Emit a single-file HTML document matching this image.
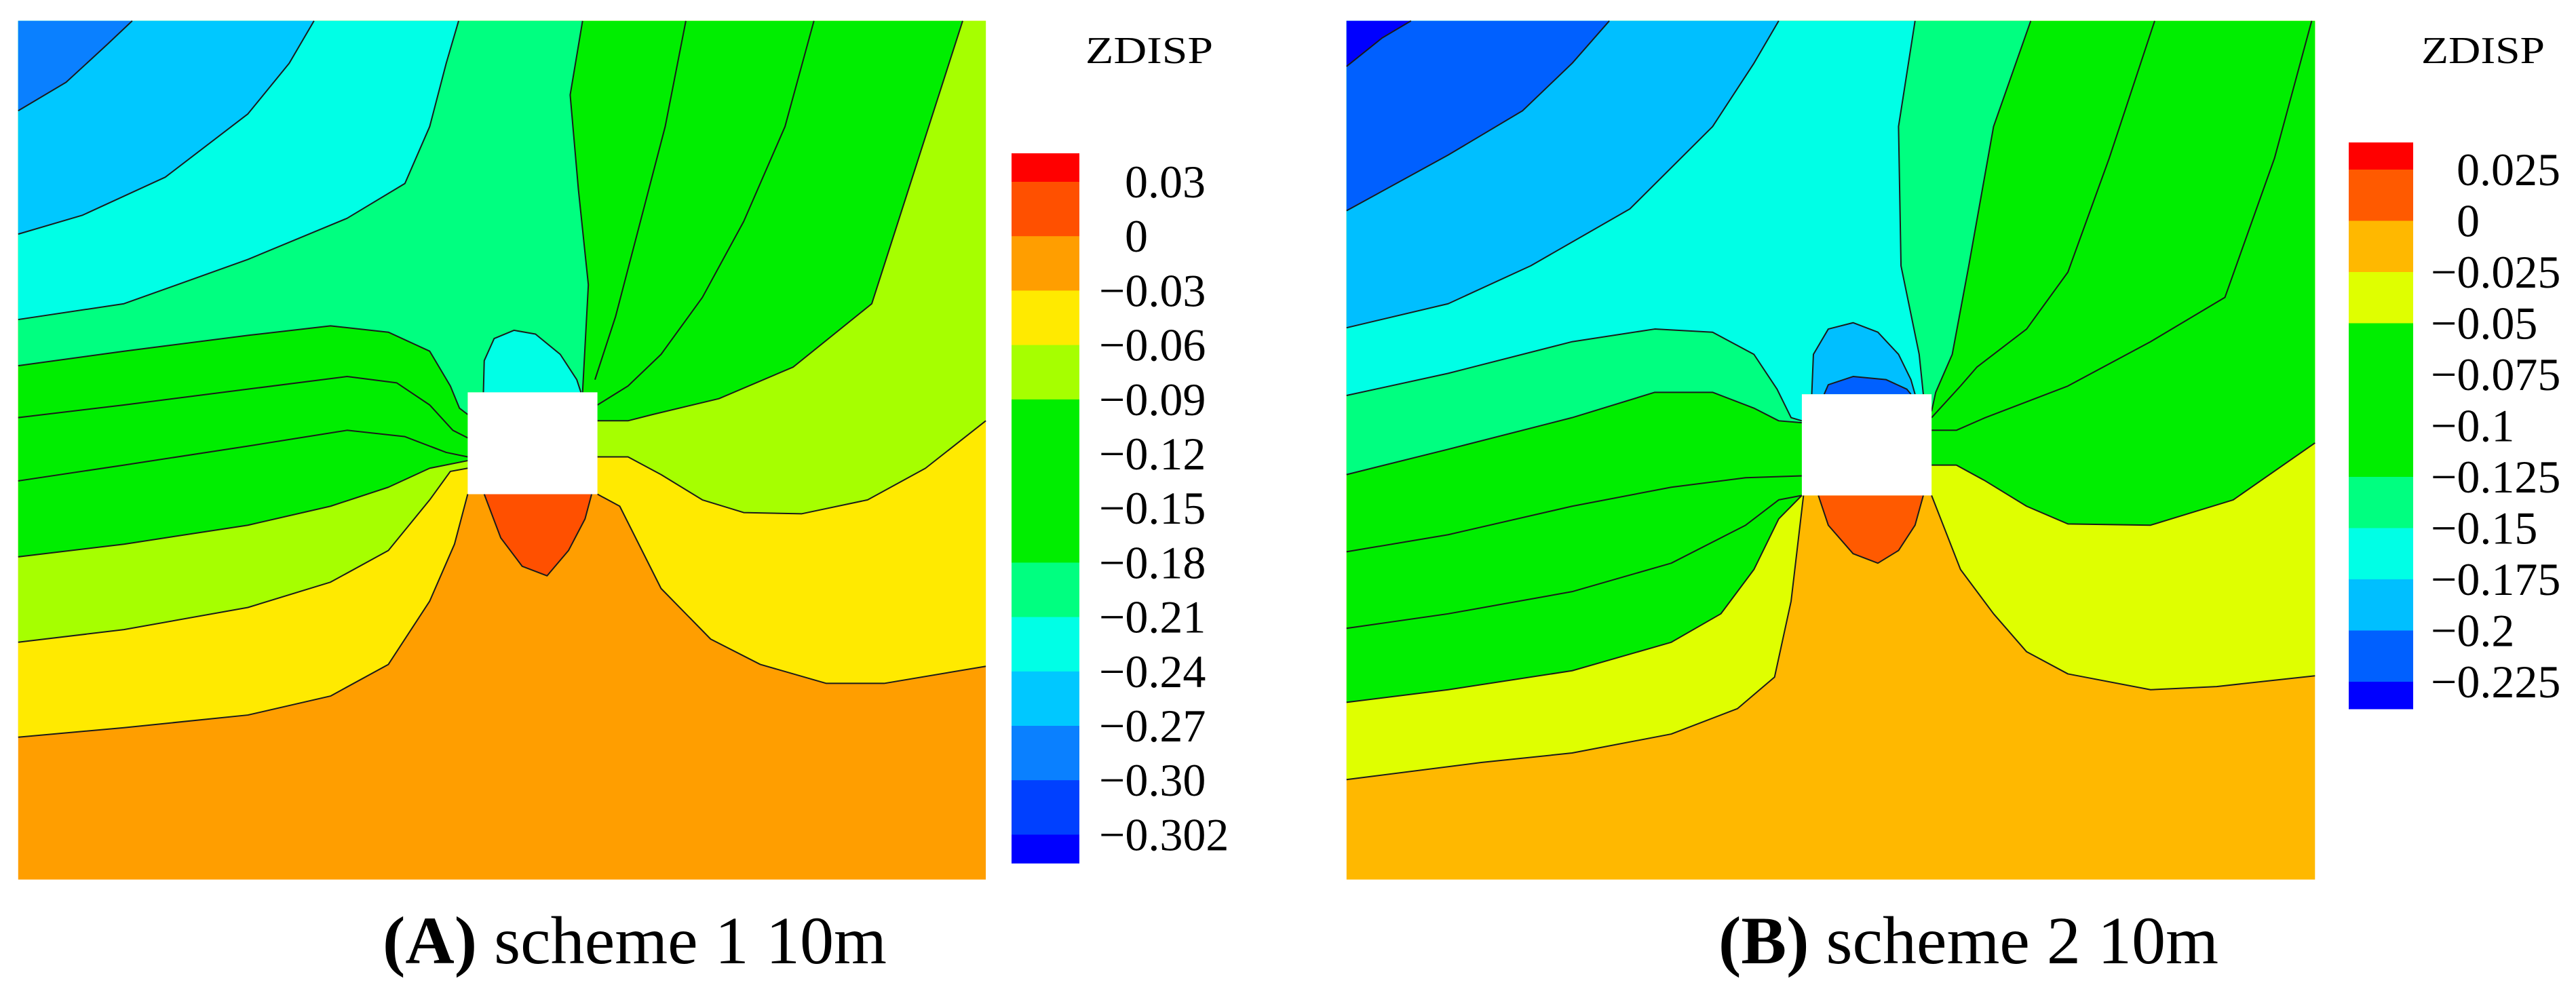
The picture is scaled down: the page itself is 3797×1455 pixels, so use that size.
<!DOCTYPE html>
<html><head><meta charset="utf-8"><style>
html,body{margin:0;padding:0;background:#fff;}
svg{display:block;}
text{font-family:"Liberation Serif",serif;fill:#000;}
</style></head><body>
<svg id="svg" width="3797" height="1455" viewBox="0 0 3797 1455" xmlns="http://www.w3.org/2000/svg">
<g id="pA" transform="scale(1.2180,0.9328)"></g>
<g id="pB" transform="translate(1891,0) scale(1.2180,0.9328)"></g>
<g id="cbA"></g>
<g id="cbB"></g>
<text x="1600" y="93" font-size="56" textLength="188" lengthAdjust="spacingAndGlyphs">ZDISP</text>
<text x="3569" y="93" font-size="56" textLength="182" lengthAdjust="spacingAndGlyphs">ZDISP</text>
<text x="564" y="1420" font-size="100" textLength="743" lengthAdjust="spacingAndGlyphs"><tspan font-weight="bold">(A)</tspan> scheme 1 10m</text>
<text x="2533" y="1420" font-size="100" textLength="737" lengthAdjust="spacingAndGlyphs"><tspan font-weight="bold">(B)</tspan> scheme 2 10m</text>
</svg>
<script>
// Colorbar data
const labelsA = ["0.03","0","\u22120.03","\u22120.06","\u22120.09","\u22120.12","\u22120.15","\u22120.18","\u22120.21","\u22120.24","\u22120.27","\u22120.30","\u22120.302"];
const colorsA = ["#FF0000","#FF5000","#FF9E00","#FFEA00","#A6FF00","#00EE00","#00EE00","#00EE00","#00FF80","#00FFE6","#00C8FF","#0A80FF","#0040FF","#0000FF"];
const labelsB = ["0.025","0","\u22120.025","\u22120.05","\u22120.075","\u22120.1","\u22120.125","\u22120.15","\u22120.175","\u22120.2","\u22120.225"];
const colorsB = ["#FF0000","#FF5A00","#FFB800","#DFFF00","#00EE00","#00EE00","#00EE00","#00FF80","#00FFE6","#00BFFF","#0060FF","#0000FF"];

const NS="http://www.w3.org/2000/svg";
function mk(tag,parent,attrs){const e=document.createElementNS(NS,tag);for(const k in attrs)e.setAttribute(k,attrs[k]);parent.appendChild(e);return e;}

function colorbar(gid,labels,colors,x0,x1,yTop,yFirst,step,labelX){
  const g=document.getElementById(gid);
  const bnd=[yTop];
  for(let i=0;i<labels.length;i++) bnd.push(yFirst+i*step);
  bnd.push(yFirst+(labels.length-1)*step+(yFirst-yTop));
  for(let i=0;i<colors.length;i++){
    const r=mk('rect',g,{x:x0,y:bnd[i],width:x1-x0,height:bnd[i+1]-bnd[i]+0.5,fill:colors[i]});
    
    
  }
  labels.forEach((l,i)=>{
    const neg=l.charAt(0)==='\u2212';
    const t=mk('text',g,{x:neg?labelX:labelX+38,y:bnd[i+1]+23,'font-size':68});
    t.textContent=l;
    
    
  });
}
// A: yTop 226, boundaries every ~80
colorbar('cbA',labelsA,colorsA,1491,1591,226,268,80.2,1620);
colorbar('cbB',labelsB,colorsB,3462,3557,210,250,75.5,3583);

function pts(a){return a.map(p=>p[0]+','+p[1]).join(' ');}
function region(g,color,fillPts,lines,name){
  const p=mk('polygon',g,{points:pts(fillPts),fill:color,stroke:'none'});
  
  
  (lines||[]).forEach(l=>{
    const pl=mk('polyline',g,{points:pts(l),fill:'none',stroke:'#1a1a1a','stroke-width':2,'vector-effect':'non-scaling-stroke','stroke-linejoin':'round'});
    
    
  });
}
function line(g,l){
  const pl=mk('polyline',g,{points:pts(l),fill:'none',stroke:'#1a1a1a','stroke-width':2,'vector-effect':'non-scaling-stroke','stroke-linejoin':'round'});
  
  
}

// ---------- Panel A ----------
(function(){
const g=document.getElementById('pA');
const X0=22,X1=1193,Y0=33,Y1=1390;
const hx0=566,hx1=723,hy0=620,hy1=781;
const r=mk('rect',g,{x:X0,y:Y0,width:X1-X0,height:Y1-Y0,fill:'#FF9E00'});

let L,R;
L=[[22,1165],[150,1150],[300,1130],[400,1100],[470,1050],[520,950],[550,860],[566,781]];
R=[[723,781],[750,800],[800,930],[860,1010],[920,1050],[1000,1080],[1070,1080],[1193,1053]];
region(g,'#FFEA00',L.concat(R,[[1193,33],[22,33]]),[L,R],'band-yellow');
L=[[22,1015],[150,995],[300,960],[400,920],[470,870],[520,790],[545,745],[566,740]];
R=[[723,722],[760,722],[800,750],[850,790],[900,810],[970,812],[1050,790],[1120,740],[1193,665]];
region(g,'#A6FF00',L.concat(R,[[1193,33],[22,33]]),[L,R],'band-yellowgreen');
L=[[22,880],[150,860],[300,830],[400,800],[470,770],[520,740],[566,728]];
R=[[723,665],[760,665],[790,655],[870,630],[960,580],[1055,480],[1165,33]];
region(g,'#00EE00',L.concat(R,[[22,33]]),[L,R],'band-green');
line(g,[[22,760],[150,735],[300,705],[420,680],[490,690],[540,715],[566,722]]);
line(g,[[22,660],[150,640],[300,615],[420,595],[480,605],[520,640],[548,680],[566,692]]);
line(g,[[723,640],[760,610],[800,560],[850,470],[900,350],[950,200],[985,33]]);
line(g,[[720,600],[745,500],[775,350],[805,200],[830,33]]);
L=[[22,578],[150,555],[300,530],[400,515],[470,525],[520,555],[545,610],[556,645],[566,655]];
R=[[705,620],[712,450],[700,300],[690,150],[705,33]];
region(g,'#00FF80',L.concat([[566,620]],R,[[22,33]]),[L,R],'band-springgreen');
L=[[22,505],[150,480],[300,410],[420,345],[490,290],[520,200],[540,100],[555,33]];
region(g,'#00FFE6',L.concat([[22,33]]),[L],'band-cyan');
L=[[22,370],[100,340],[200,280],[300,180],[350,100],[380,33]];
region(g,'#00C8FF',L.concat([[22,33]]),[L],'band-lightblue');
L=[[22,175],[80,130],[130,70],[160,33]];
region(g,'#0A80FF',L.concat([[22,33]]),[L],'band-blue');
L=[[585,620],[586,570],[598,535],[622,522],[648,528],[678,560],[698,600],[703,620]];
region(g,'#00FFE6',L,[L],'bubble-cyan');
L=[[586,781],[606,850],[632,895],[662,910],[688,870],[708,820],[716,781]];
region(g,'#FF5000',L,[L],'bump-red');
const h=mk('rect',g,{x:hx0,y:hy0,width:hx1-hx0,height:hy1-hy0,fill:'#fff'});

})();

// ---------- Panel B ----------
(function(){
const g=document.getElementById('pB');
const X0=77,X1=1249,Y0=33,Y1=1390;
const hx0=628,hx1=785,hy0=623,hy1=783;
const r=mk('rect',g,{x:X0,y:Y0,width:X1-X0,height:Y1-Y0,fill:'#FFB800'});

let L,R;
L=[[77,1232],[240,1205],[350,1190],[470,1160],[550,1120],[595,1070],[615,950],[630,783]];
R=[[785,783],[820,900],[860,970],[900,1030],[950,1065],[1050,1090],[1130,1085],[1249,1068]];
region(g,'#DFFF00',L.concat(R,[[1249,33],[77,33]]),[L,R],'band-yellow');
L=[[77,1110],[200,1090],[350,1060],[470,1015],[530,970],[570,900],[600,820],[628,783]];
R=[[785,735],[815,735],[850,760],[900,800],[950,828],[1050,830],[1150,790],[1249,700]];
region(g,'#00EE00',L.concat(R,[[1249,33],[77,33]]),[L,R],'band-green');
line(g,[[77,993],[200,970],[350,935],[470,890],[560,830],[600,790],[628,783]]);
line(g,[[77,872],[200,845],[350,800],[470,770],[560,755],[628,752]]);
line(g,[[785,680],[815,680],[850,660],[950,610],[1050,540],[1140,470],[1200,250],[1245,33]]);
line(g,[[785,660],[820,610],[840,580],[900,520],[950,430],[1000,250],[1055,33]]);
L=[[77,750],[200,710],[350,660],[450,620],[520,620],[570,645],[600,665],[628,668]];
R=[[785,650],[790,620],[810,560],[830,420],[860,200],[905,33]];
region(g,'#00FF80',L.concat([[628,623],[785,623]],R,[[77,33]]),[L,R],'band-springgreen');
L=[[77,625],[200,590],[350,540],[450,520],[520,525],[570,560],[598,615],[615,660],[628,665]];
R=[[775,623],[770,560],[748,420],[745,200],[765,33]];
region(g,'#00FFE6',L.concat([[628,623]],R,[[77,33]]),[L,R],'band-cyan');
L=[[77,518],[200,480],[300,420],[420,330],[520,200],[570,100],[600,33]];
region(g,'#00BFFF',L.concat([[77,33]]),[L],'band-lightblue');
L=[[77,333],[200,245],[290,175],[350,100],[395,33]];
region(g,'#0060FF',L.concat([[77,33]]),[L],'band-blue');
L=[[77,105],[120,60],[155,33]];
region(g,'#0000FF',L.concat([[77,33]]),[L],'band-deepblue');
L=[[640,623],[642,560],[660,520],[690,510],[720,525],[745,560],[760,600],[765,623]];
region(g,'#00BFFF',L,[L],'bubble-lightblue');
L=[[655,623],[660,608],[690,595],[730,600],[755,615],[760,623]];
region(g,'#0060FF',L,[L],'bubble-blue');
L=[[648,783],[660,830],[690,875],[720,890],[745,870],[765,830],[775,783]];
region(g,'#FF5A00',L,[L],'bump-red');
const h=mk('rect',g,{x:hx0,y:hy0,width:hx1-hx0,height:hy1-hy0,fill:'#fff'});

})();
</script>
</body></html>
